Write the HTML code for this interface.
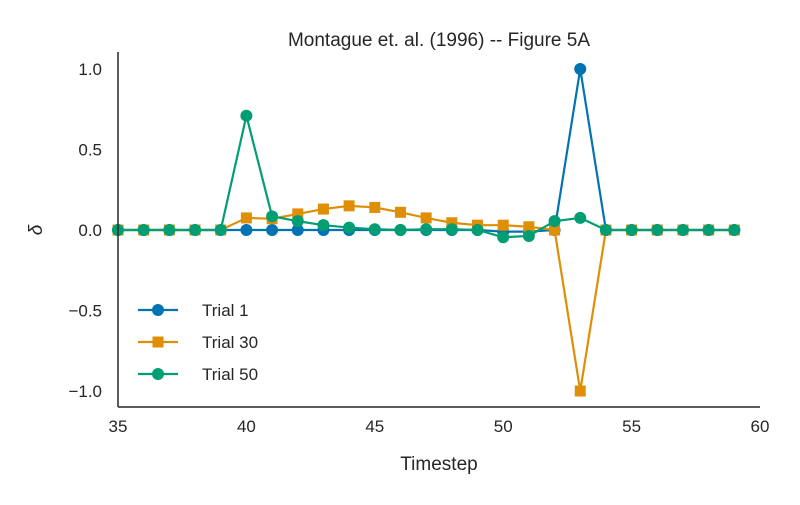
<!DOCTYPE html>
<html><head><meta charset="utf-8"><style>
body{margin:0;background:#fff;}
svg text{font-family:"Liberation Sans",sans-serif;fill:#262626;}
</style></head><body>
<svg id="chart" width="800" height="500">
<text x="439" y="46" font-size="19" text-anchor="middle">Montague et. al. (1996) -- Figure 5A</text>
<g id="ticks"></g>
<g id="series"></g>
<line x1="118" y1="52" x2="118" y2="407" stroke="#262626" stroke-width="1.5"/>
<line x1="118" y1="407" x2="760" y2="407" stroke="#262626" stroke-width="1.5"/>
<text x="439" y="470" font-size="19" text-anchor="middle">Timestep</text>
<text x="0" y="0" font-size="19" font-style="italic" text-anchor="middle" transform="translate(42,230) rotate(-90)">δ</text>
<g id="legend"></g>
</svg>
<script>
const xs = [35,36,37,38,39,40,41,42,43,44,45,46,47,48,49,50,51,52,53,54,55,56,57,58,59];
const trial1 = [0,0,0,0,0,0,0,0,0,0,0,0,0,0,0,-0.01,-0.01,0,1.0,0,0,0,0,0,0];
const trial30 = [0,0,0,0,0,0.075,0.07,0.1,0.13,0.15,0.14,0.11,0.075,0.045,0.03,0.03,0.02,0,-1.0,0,0,0,0,0,0];
const trial50 = [0,0,0,0,0,0.71,0.085,0.055,0.03,0.015,0.005,0,0.005,0.005,0,-0.045,-0.037,0.055,0.075,0,0,0,0,0,0];
const xTicks = [35,40,45,50,55,60];
const yTicks = [1.0,0.5,0.0,-0.5,-1.0];
const yTickLabels = ["1.0","0.5","0.0","−0.5","−1.0"];
const seriesNames = ["Trial 1","Trial 30","Trial 50"];
const colors = ["#0173b2","#de8f05","#029e73"];
const markers = ["circle","square","circle"];

const X = v => 118 + (v-35)*(642/25);
const Y = v => 230 - v*161;
const NS = "http://www.w3.org/2000/svg";
function mk(tag, attrs, parent){const e=document.createElementNS(NS,tag);for(const k in attrs)e.setAttribute(k,attrs[k]);parent.appendChild(e);return e;}
const ticks=document.getElementById('ticks');
xTicks.forEach(t=>{const e=mk('text',{x:X(t),y:432,'font-size':17,'text-anchor':'middle'},ticks);e.textContent=t;

});
yTicks.forEach((t,i)=>{const e=mk('text',{x:102,y:Y(t)+6,'font-size':17,'text-anchor':'end'},ticks);e.textContent=yTickLabels[i];

});
const sg=document.getElementById('series');
[trial1,trial30,trial50].forEach((d,si)=>{
  const g=mk('g',{},sg);
  
  
  mk('polyline',{points:d.map((v,i)=>X(xs[i])+','+Y(v)).join(' '),fill:'none',stroke:colors[si],'stroke-width':2.2},g);
  d.forEach((v,i)=>{
    let m;
    if(markers[si]==='square') m=mk('rect',{x:X(xs[i])-5.5,y:Y(v)-5.5,width:11,height:11,fill:colors[si]},g);
    else m=mk('circle',{cx:X(xs[i]),cy:Y(v),r:6,fill:colors[si]},g);
    
    
  });
});
const lg=document.getElementById('legend');
seriesNames.forEach((n,i)=>{
  const y=310+i*32;
  const g=mk('g',{},lg);
  
  
  mk('line',{x1:138,y1:y,x2:178,y2:y,stroke:colors[i],'stroke-width':2.2},g);
  if(markers[i]==='square') mk('rect',{x:152.5,y:y-5.5,width:11,height:11,fill:colors[i]},g);
  else mk('circle',{cx:158,cy:y,r:6,fill:colors[i]},g);
  const t=mk('text',{x:202,y:y+6,'font-size':17},g);t.textContent=n;
});
</script>
</body></html>
